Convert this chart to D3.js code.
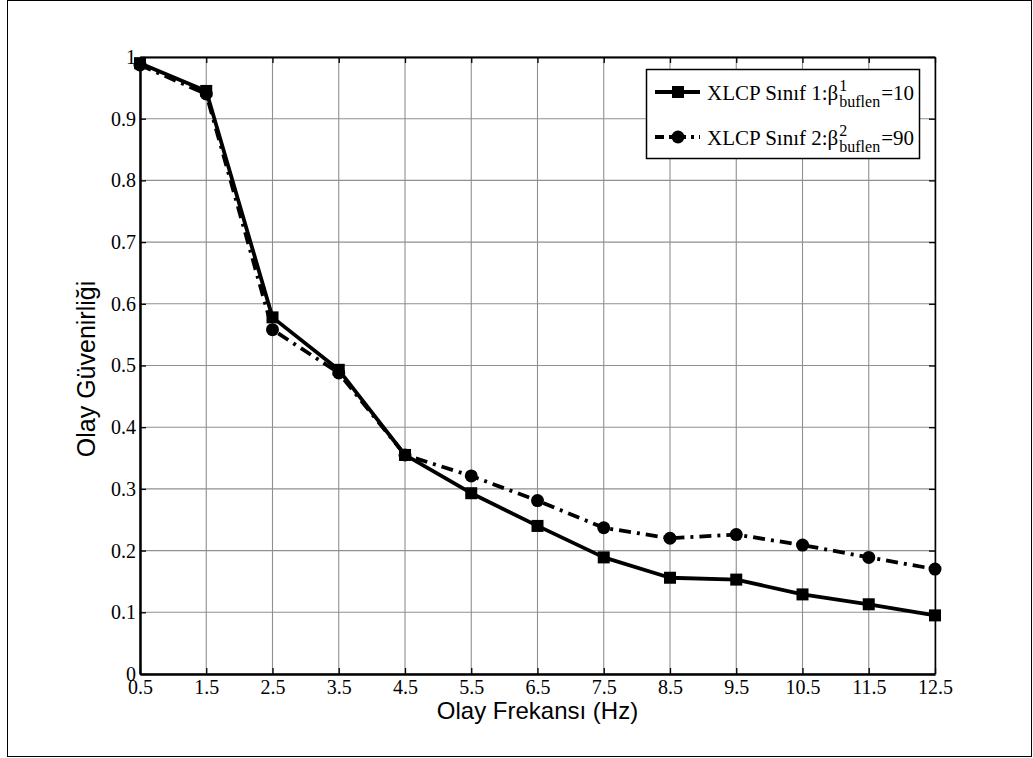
<!DOCTYPE html>
<html>
<head>
<meta charset="utf-8">
<script src="https://cdn.jsdelivr.net/npm/d3@7"></script>
<style>
  html, body { margin: 0; padding: 0; background: #fff; }
  svg { display: block; }
</style>
</head>
<body>
<svg id="chart" width="1033" height="758"></svg>
<script>
// Event frequency (Hz) on the x axis
const frequencies = [0.5, 1.5, 2.5, 3.5, 4.5, 5.5, 6.5, 7.5, 8.5, 9.5, 10.5, 11.5, 12.5];
// Event reliability for the two XLCP classes
const class1Values = [0.990, 0.945, 0.578, 0.493, 0.355, 0.293, 0.240, 0.189, 0.156, 0.153, 0.129, 0.113, 0.095];
const class2Values = [0.987, 0.940, 0.558, 0.488, 0.355, 0.321, 0.281, 0.237, 0.220, 0.226, 0.209, 0.189, 0.170];
// Tick labels
const xTickLabels = ["0.5", "1.5", "2.5", "3.5", "4.5", "5.5", "6.5", "7.5", "8.5", "9.5", "10.5", "11.5", "12.5"];
const yTickValues = [0, 0.1, 0.2, 0.3, 0.4, 0.5, 0.6, 0.7, 0.8, 0.9, 1];
const yTickLabels = ["0", "0.1", "0.2", "0.3", "0.4", "0.5", "0.6", "0.7", "0.8", "0.9", "1"];
// Legend entries
const legendEntries = [
  { main: "XLCP Sınıf 1:β", sup: "1", sub: "buflen", tail: "=10", marker: "square", dash: null },
  { main: "XLCP Sınıf 2:β", sup: "2", sub: "buflen", tail: "=90", marker: "circle", dash: "12,6,3,6" }
];

const svg = d3.select("#chart");
const W = 1033, H = 758;
const plot = { left: 140, right: 935, top: 57, bottom: 674 };

const serif = "'Liberation Serif', 'Times New Roman', serif";
const sans = "'Liberation Sans', Arial, sans-serif";

// Figure frame
svg.append("rect")
  .attr("x", 7.5).attr("y", 0.5)
  .attr("width", W - 9).attr("height", H - 2)
  .attr("fill", "#fff").attr("stroke", "#000").attr("stroke-width", 1);

const x = d3.scaleLinear().domain([0.5, 12.5]).range([plot.left, plot.right]);
const y = d3.scaleLinear().domain([0, 1]).range([plot.bottom, plot.top]);

// Grid lines
const grid = svg.append("g").attr("stroke", "#8f8f8f").attr("stroke-width", 1.1);
frequencies.forEach(f => {
  grid.append("line")
    .attr("x1", x(f)).attr("x2", x(f))
    .attr("y1", plot.top).attr("y2", plot.bottom);
});
yTickValues.forEach(v => {
  grid.append("line")
    .attr("x1", plot.left).attr("x2", plot.right)
    .attr("y1", y(v)).attr("y2", y(v));
});

// Axes (ticks inside the box)
const xAxisBottom = d3.axisBottom(x).tickValues(frequencies)
  .tickFormat((d, i) => xTickLabels[i]).tickSizeInner(-6).tickSizeOuter(0).tickPadding(6);
const xAxisTop = d3.axisTop(x).tickValues(frequencies)
  .tickFormat("").tickSizeInner(-6).tickSizeOuter(0);
const yAxisLeft = d3.axisLeft(y).tickValues(yTickValues)
  .tickFormat((d, i) => yTickLabels[i]).tickSizeInner(-6).tickSizeOuter(0).tickPadding(4);
const yAxisRight = d3.axisRight(y).tickValues(yTickValues)
  .tickFormat("").tickSizeInner(-6).tickSizeOuter(0);

function styleAxis(g, width) {
  g.select(".domain").attr("stroke", "#000").attr("stroke-width", width);
  g.selectAll(".tick line").attr("stroke", "#000").attr("stroke-width", 1.3);
  g.selectAll(".tick text").attr("fill", "#000")
    .style("font-family", serif).style("font-size", "20px");
}

svg.append("g").attr("transform", `translate(0,${plot.top})`).call(xAxisTop).call(g => styleAxis(g, 2));
svg.append("g").attr("transform", `translate(${plot.right},0)`).call(yAxisRight).call(g => styleAxis(g, 1.5));
const gx = svg.append("g").attr("transform", `translate(0,${plot.bottom})`).call(xAxisBottom).call(g => styleAxis(g, 2.5));
svg.append("g").attr("transform", `translate(${plot.left},0)`).call(yAxisLeft).call(g => styleAxis(g, 2.5));
gx.selectAll(".tick text").attr("dy", "0.68em");

// Axis titles
svg.append("text")
  .attr("x", (plot.left + plot.right) / 2).attr("y", 719)
  .attr("text-anchor", "middle")
  .style("font-family", sans).style("font-size", "24px")
  .text("Olay Frekansı (Hz)");
svg.append("text")
  .attr("transform", `translate(95,369) rotate(-90)`)
  .attr("text-anchor", "middle")
  .style("font-family", sans).style("font-size", "25px")
  .text("Olay Güvenirliği");

// Series
const line = d3.line().x((d, i) => x(frequencies[i])).y(d => y(d));

function drawMarker(g, kind, cx, cy) {
  if (kind === "square") {
    g.append("rect")
      .attr("x", cx - 6).attr("y", cy - 6).attr("width", 12).attr("height", 12)
      .attr("fill", "#000");
  } else {
    g.append("circle").attr("cx", cx).attr("cy", cy).attr("r", 6.5).attr("fill", "#000");
  }
}

function drawSeries(values, entry) {
  const g = svg.append("g");
  g.append("path")
    .datum(values)
    .attr("d", line)
    .attr("fill", "none")
    .attr("stroke", "#000")
    .attr("stroke-width", 3.8)
    .attr("stroke-linejoin", "round")
    .attr("stroke-dasharray", entry.dash);
  values.forEach((v, i) => drawMarker(g, entry.marker, x(frequencies[i]), y(v)));
}

drawSeries(class1Values, legendEntries[0]);
drawSeries(class2Values, legendEntries[1]);

// Legend
const legend = { x: 646, y: 69, w: 273, h: 89 };
const lg = svg.append("g");
lg.append("rect")
  .attr("x", legend.x + 0.5).attr("y", legend.y + 0.5)
  .attr("width", legend.w).attr("height", legend.h)
  .attr("fill", "#fff").attr("stroke", "#000").attr("stroke-width", 1.5);

legendEntries.forEach((e, i) => {
  const cy = legend.y + 23 + i * 45;
  lg.append("line")
    .attr("x1", legend.x + 9).attr("x2", legend.x + 54)
    .attr("y1", cy).attr("y2", cy)
    .attr("stroke", "#000").attr("stroke-width", 3.8)
    .attr("stroke-dasharray", e.dash ? "9,5,3,5" : null);
  drawMarker(lg, e.marker, legend.x + 32, cy);

  const tx = legend.x + 61;
  const main = lg.append("text")
    .attr("x", tx).attr("y", cy + 8)
    .style("font-family", serif).style("font-size", "21px")
    .text(e.main);
  const mw = main.node().getComputedTextLength();
  lg.append("text")
    .attr("x", tx + mw + 1).attr("y", cy - 1)
    .style("font-family", serif).style("font-size", "16px")
    .text(e.sup);
  const sub = lg.append("text")
    .attr("x", tx + mw + 1).attr("y", cy + 15)
    .style("font-family", serif).style("font-size", "16px")
    .text(e.sub);
  const sw = sub.node().getComputedTextLength();
  lg.append("text")
    .attr("x", tx + mw + sw + 2).attr("y", cy + 8)
    .style("font-family", serif).style("font-size", "21px")
    .text(e.tail);
});
</script>
</body>
</html>
